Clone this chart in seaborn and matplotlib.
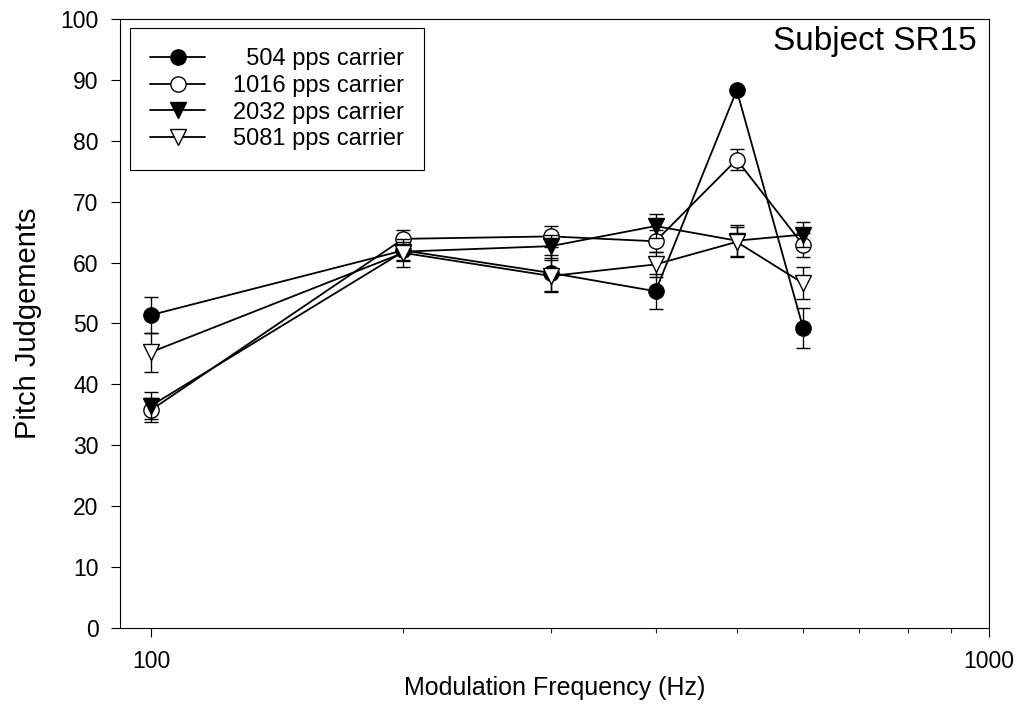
import numpy as np
import pandas as pd
import matplotlib
matplotlib.use("Agg")
import matplotlib.pyplot as plt
from matplotlib.ticker import FixedLocator, FuncFormatter, LogLocator, NullFormatter
import seaborn as sns

# Значення
freqs = [100, 200, 300, 400, 500, 600]

pitch_504 = [51.4, 62.0, 58.3, 55.3, 88.3, 49.3]
err_504 = [2.9, 1.5, 3.0, 2.9, 0.5, 3.3]

pitch_1016 = [35.8, 63.9, 64.3, 63.5, 76.9, 62.9]
err_1016 = [2.0, 1.5, 1.7, 1.8, 1.7, 2.0]

pitch_2032 = [36.5, 61.8, 62.7, 66.0, 63.6, 64.6]
err_2032 = [2.2, 1.6, 1.9, 2.0, 2.5, 2.0]

pitch_5081 = [45.3, 61.6, 57.8, 59.7, 63.4, 56.6]
err_5081 = [3.2, 2.3, 2.7, 2.0, 2.4, 2.6]

labels = ["  504 pps carrier", "1016 pps carrier", "2032 pps carrier", "5081 pps carrier"]
markers = ["o", "o", "v", "v"]
faces = ["black", "white", "black", "white"]

y_ticks = list(range(0, 101, 10))
x_ticks = [100, 1000]

series = [
    (pitch_504, err_504),
    (pitch_1016, err_1016),
    (pitch_2032, err_2032),
    (pitch_5081, err_5081),
]

sns.set_style("ticks")
plt.rcParams["font.family"] = ["Liberation Sans", "DejaVu Sans"]
plt.rcParams["text.color"] = "black"
plt.rcParams["axes.labelcolor"] = "black"

fig = plt.figure(figsize=(10.21, 7.25), dpi=100)
ax = fig.add_axes([0.1175, 0.1338, 0.8511, 0.84])

# спочатку планки похибок, потім лінія з маркерами
for i, (vals, errs) in enumerate(series):
    z = 3 + i * 2
    ax.errorbar(freqs, vals, yerr=errs, fmt="none", ecolor="black",
                elinewidth=1.0, capsize=5, capthick=1.0, zorder=z)
    sns.lineplot(x=freqs, y=vals, ax=ax, color="black", linewidth=1.3,
                 marker=markers[i], markersize=11, markerfacecolor=faces[i],
                 markeredgecolor="black", markeredgewidth=1.0,
                 label=labels[i], zorder=z + 1)

ax.set_xscale("log")
ax.set_xlim(91.8, 1000)
ax.set_ylim(0, 100)

ax.xaxis.set_major_locator(FixedLocator(x_ticks))
ax.xaxis.set_major_formatter(FuncFormatter(lambda v, p: f"{v:g}"))
ax.xaxis.set_minor_locator(LogLocator(base=10, subs=np.arange(2, 10)))
ax.xaxis.set_minor_formatter(NullFormatter())
ax.set_yticks(y_ticks)

ax.tick_params(axis="both", which="major", direction="out", length=6.5,
               width=0.8, labelsize=16.5, colors="black", pad=9)
ax.tick_params(axis="x", which="minor", direction="out", length=3.6, width=0.8)

for sp in ax.spines.values():
    sp.set_visible(True)
    sp.set_color("black")
    sp.set_linewidth(0.8)

ax.set_xlabel("Modulation Frequency (Hz)", fontsize=18, va="center")
ax.xaxis.set_label_coords(0.5, -0.0985)
ax.set_ylabel("Pitch Judgements", fontsize=21, va="center")
ax.yaxis.set_label_coords(-0.106, 0.5)

ax.text(0.9862, 0.949, "Subject SR15", transform=ax.transAxes,
        ha="right", va="baseline", fontsize=24)

leg = ax.legend(loc="upper left", bbox_to_anchor=(0.0115, 0.985),
                borderaxespad=0, fontsize=17, handlelength=2.33,
                handletextpad=1.2, fancybox=False, framealpha=1,
                edgecolor="black", labelspacing=0.2, borderpad=0.85)
leg.get_frame().set_linewidth(0.8)

fig.savefig("out.png", dpi=100)
